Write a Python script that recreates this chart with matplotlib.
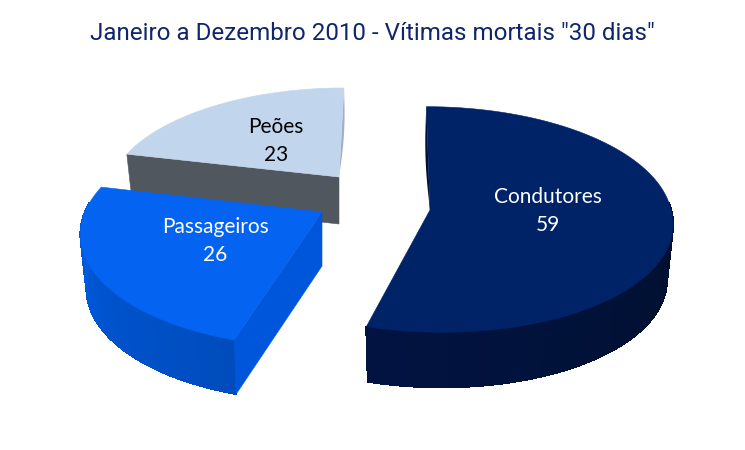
import numpy as np
from matplotlib import pyplot as plt
from matplotlib.collections import PolyCollection
from matplotlib.colors import to_rgb
from matplotlib.patches import Polygon

title = 'Janeiro a Dezembro 2010 - Vítimas mortais "30 dias"'
labels = ["Condutores", "Passageiros", "Peões"]
values = [59, 26, 23]

# pixel geometry of each exploded slice: apex, radii, perspective, lean, depth
geom = {
    "Condutores":  dict(apex=(430, 210), A=241, B=112, k=0.084, lean=(-4, -11), depth=55),
    "Passageiros": dict(apex=(322, 212), A=237, B=112, k=0.168, lean=(6, 6), depth=54),
    "Peões":       dict(apex=(339, 177), A=227, B=102.5, k=0.151, lean=(5.7, 5.7), depth=47),
}
style = {
    "Condutores":  dict(top="#002368", wall="#000f30", rim=("#000a26", "#00102f", "#021342"),
                        sliver="#000f30", tc="white", pos=(548, 211)),
    "Passageiros": dict(top="#0563f2", wall="#0056da", rim=("#004cbc", "#0054d0", "#005ee6"),
                        sliver="#0056da", tc="white", pos=(215, 241)),
    "Peões":       dict(top="#c1d5ec", wall="#50575f", rim=("#9aa8c0", "#9aa8c0", "#9aa8c0"),
                        sliver="#a3aec6", tc="black", pos=(276, 141)),
}
shrink = 0.975


def project(g, theta):
    X = np.sin(theta)
    Y = np.cos(theta)
    w = 1 + g["k"] * Y
    lean = np.where(Y > 0, g["lean"][0], g["lean"][1])
    x = g["apex"][0] + g["A"] * X / w + lean * Y / w
    y = g["apex"][1] - g["B"] * Y / w
    return x, y


def draw_slice(name, a0, a1):
    g, s = geom[name], style[name]
    thetas = np.linspace(a0, a1, 90)
    x, y = project(g, thetas)
    d = g["depth"]
    apex = g["apex"]
    # the bottom of the wall pulls in a little towards the slice apex
    xb = apex[0] + (x - apex[0]) * shrink
    yb = y + d

    # outer wall, shaded step by step along the rim, only where it faces the viewer
    quads, cols = [], []
    c0, c1, c2 = [np.array(to_rgb(c)) for c in s["rim"]]
    for i in range(len(thetas) - 1):
        if np.cos(thetas[i]) > 0.08 or np.cos(thetas[i + 1]) > 0.08:
            continue
        t = i / (len(thetas) - 2)
        col = c0 + (c1 - c0) * t * 2 if t < 0.5 else c1 + (c2 - c1) * (t - 0.5) * 2
        quads.append([(x[i], y[i]), (x[i + 1], y[i + 1]),
                      (xb[i + 1], yb[i + 1]), (xb[i], yb[i])])
        cols.append(tuple(col))
    if quads:
        ax.add_collection(PolyCollection(quads, facecolors=cols, edgecolors=cols,
                                         linewidths=0.8, antialiaseds=False))

    # cut wall at the start of the slice, it goes down by the depth
    if name != "Condutores":
        ax.add_patch(Polygon([(x[0], y[0]), apex, (apex[0], apex[1] + d), (xb[0], yb[0])],
                             fc=s["wall"], ec=s["wall"], lw=0.4))

    # thin sliver beside the back edge of the cut
    t = np.linspace(0, 1, 20)
    if name == "Condutores":
        ex = x[0] + (apex[0] - x[0]) * t - 2.6 * np.sin(np.pi * t)
        ey = y[0] + (apex[1] - y[0]) * t
        ax.add_patch(Polygon(np.c_[ex, ey], fc=s["sliver"], ec="none"))
    if name == "Peões":
        ex = x[-1] + (apex[0] - x[-1]) * t + 2.6 * np.sin(np.pi * t)
        ey = y[-1] + (apex[1] - y[-1]) * t
        ax.add_patch(Polygon(np.c_[ex, ey], fc=s["sliver"], ec="none"))

    ax.add_patch(Polygon(np.r_[[apex], np.c_[x, y]], fc=s["top"], ec=s["top"], lw=0.4))


plt.rcParams["font.family"] = ["Lato", "DejaVu Sans"]
fig = plt.figure(figsize=(7.45, 4.5), dpi=100, facecolor="white")
ax = fig.add_axes([0, 0, 1, 1])
ax.set_xlim(0, 745)
ax.set_ylim(450, 0)
ax.axis("off")

fracs = np.array(values) / sum(values) * 2 * np.pi
ends = np.cumsum(fracs)
starts = ends - fracs
for i in [2, 1, 0]:
    draw_slice(labels[i], starts[i], ends[i])

for name, v in zip(labels, values):
    s = style[name]
    ax.text(s["pos"][0], s["pos"][1], "%s\n%d" % (name, v), color=s["tc"], fontsize=15,
            ha="center", va="center", linespacing=1.46)

ax.text(372.5, 33, title, color="#10266a", fontsize=17.4, ha="center", va="center",
        family=["Roboto", "Liberation Sans"])

fig.savefig("out.png", dpi=100)
